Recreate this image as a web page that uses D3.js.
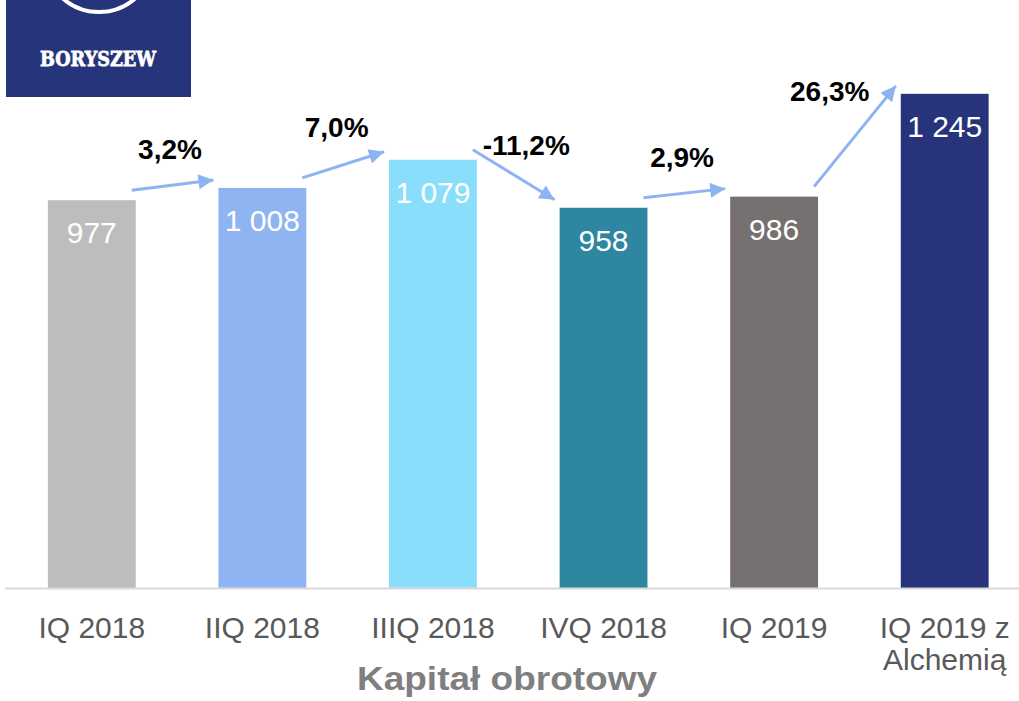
<!DOCTYPE html>
<html>
<head>
<meta charset="utf-8">
<script src="https://cdn.jsdelivr.net/npm/d3@7"></script>
<style>
  html, body { margin: 0; padding: 0; background: #fff; }
  svg { display: block; font-family: "Liberation Sans", Arial, sans-serif; }
</style>
</head>
<body>
<script>
"use strict";

// data
const categories = ["IQ 2018", "IIQ 2018", "IIIQ 2018", "IVQ 2018", "IQ 2019", "IQ 2019 z|Alchemią"]
const values = [977, 1008, 1079, 958, 986, 1245]
const valueLabels = ["977", "1 008", "1 079", "958", "986", "1 245"]
const changeLabels = ["3,2%", "7,0%", "-11,2%", "2,9%", "26,3%"]
const barColors = ["#bdbdbd", "#8fb4f2", "#89dffb", "#2e86a0", "#767170", "#27347c"]
const title = "Kapitał obrotowy"

const measurements = {
    width: 1019,
    height: 701,
    baseline: 588
}

const svg = d3.select("body").append("svg")
    .attr("width", measurements.width)
    .attr("height", measurements.height)

const x = d3.scaleBand()
    .domain(categories)
    .range([6.5, 1030])
    .paddingInner(0.485)
    .paddingOuter(0.2425)

const y = d3.scaleLinear()
    .domain([0, 1300])
    .range([measurements.baseline, 72])

// logo in the top left corner
const logo = svg.append("g")
svg.append("clipPath").attr("id", "logoClip")
    .append("rect").attr("x", 6).attr("y", 0).attr("width", 185).attr("height", 97)
logo.append("rect")
    .attr("x", 6).attr("y", 0).attr("width", 185).attr("height", 97)
    .attr("fill", "#26347b")
logo.append("circle")
    .attr("clip-path", "url(#logoClip)")
    .attr("cx", 99).attr("cy", -43).attr("r", 55)
    .attr("fill", "none").attr("stroke", "#fff").attr("stroke-width", 4)
logo.append("ellipse")
    .attr("clip-path", "url(#logoClip)")
    .attr("cx", 99).attr("cy", -8).attr("rx", 34).attr("ry", 12)
    .attr("fill", "none").attr("stroke", "#26347b").attr("stroke-width", 3)
logo.append("text")
    .attr("x", 98).attr("y", 66)
    .attr("text-anchor", "middle")
    .attr("fill", "#fff")
    .attr("stroke", "#fff")
    .attr("stroke-width", 0.8)
    .style("font-family", "'DejaVu Serif', serif")
    .style("font-weight", "bold")
    .style("font-size", "21px")
    .attr("textLength", 116)
    .attr("lengthAdjust", "spacingAndGlyphs")
    .text("BORYSZEW")

// bars
svg.selectAll(".bar")
    .data(values)
    .enter()
    .append("rect")
        .attr("class", "bar")
        .attr("x", (d, i) => x(categories[i]))
        .attr("y", d => y(d))
        .attr("width", x.bandwidth())
        .attr("height", d => y(0) - y(d))
        .attr("fill", (d, i) => barColors[i])

// value labels inside bars
svg.selectAll(".val")
    .data(values)
    .enter()
    .append("text")
        .attr("class", "val")
        .attr("x", (d, i) => x(categories[i]) + x.bandwidth() / 2)
        .attr("y", d => y(d) + 43)
        .attr("text-anchor", "middle")
        .attr("fill", "#fff")
        .style("font-size", "30px")
        .text((d, i) => valueLabels[i])

// baseline
svg.append("line")
    .attr("x1", 5).attr("x2", measurements.width)
    .attr("y1", measurements.baseline + 0.5).attr("y2", measurements.baseline + 0.5)
    .attr("stroke", "#d9d9d9").attr("stroke-width", 2)

// category labels (| splits lines)
const xAxis = svg.append("g")
categories.forEach(function(c) {
    const t = xAxis.append("text")
        .attr("x", x(c) + x.bandwidth() / 2)
        .attr("y", 638)
        .attr("text-anchor", "middle")
        .attr("fill", "#595959")
        .style("font-size", "30px")
    c.split("|").forEach(function(line, j) {
        t.append("tspan")
            .attr("x", x(c) + x.bandwidth() / 2)
            .attr("dy", j == 0 ? 0 : 32)
            .text(line)
    })
})

// title
svg.append("text")
    .attr("x", 507).attr("y", 690)
    .attr("text-anchor", "middle")
    .attr("fill", "#7f7f7f")
    .style("font-size", "33px")
    .style("font-weight", "bold")
    .attr("textLength", 300)
    .attr("lengthAdjust", "spacingAndGlyphs")
    .text(title)

// change arrows between bars
svg.append("defs").append("marker")
    .attr("id", "head")
    .attr("viewBox", "0 0 10 10")
    .attr("refX", 10).attr("refY", 5)
    .attr("markerWidth", 6).attr("markerHeight", 5)
    .attr("markerUnits", "strokeWidth")
    .attr("orient", "auto")
    .append("path")
        .attr("d", "M0,0 L10,5 L0,10 Z")
        .attr("fill", "#8db3f2")

changeLabels.forEach(function(lbl, i) {
    const x1 = x(categories[i]) + x.bandwidth() - 4
    const y1 = y(values[i]) - 10
    const x2 = x(categories[i + 1]) - 5
    const y2 = y(values[i + 1]) - 8
    svg.append("line")
        .attr("x1", x1).attr("y1", y1)
        .attr("x2", x2).attr("y2", y2)
        .attr("stroke", "#8db3f2")
        .attr("stroke-width", 3)
        .attr("marker-end", "url(#head)")

    const dy = y2 - y1
    svg.append("text")
        .attr("x", (x1 + x2) / 2 + 0.25 * dy)
        .attr("y", (y1 + y2) / 2 - 25 + 0.1 * dy)
        .attr("text-anchor", "middle")
        .attr("fill", "#000")
        .style("font-size", "28px")
        .style("font-weight", "bold")
        .text(lbl)
})
</script>
</body>
</html>
